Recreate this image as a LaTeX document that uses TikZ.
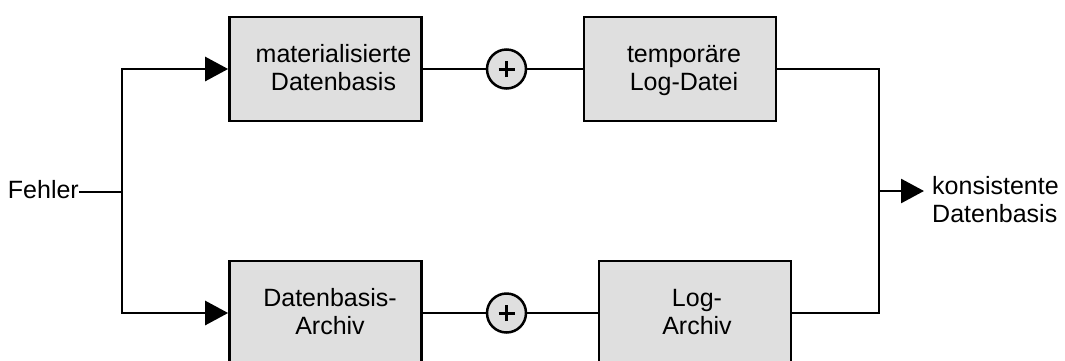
\documentclass[tikz,border=0pt]{standalone}
\usepackage{fontspec}
\setmainfont{Liberation Sans}
\usetikzlibrary{arrows.meta}
\definecolor{boxgray}{HTML}{DFDFDF}
\begin{document}
\begin{tikzpicture}[x=1pt,y=-1pt,
  every node/.style={font=\fontsize{25}{28}\selectfont},
  conn/.style={line width=2.7pt},
  arr/.style={conn,-{Triangle[length=23pt,width=24pt]}},
  blockbox/.style={draw,fill=boxgray,line width=2.7pt,minimum width=192pt,minimum height=104pt,inner sep=0pt},
  plusnode/.style={circle,draw,fill=boxgray,line width=2.5pt,minimum size=39pt,inner sep=0pt},
  plusbar/.style={line width=3pt},
  txt/.style={inner sep=0pt,align=center}]
\useasboundingbox (0,0) rectangle (1065,360);
\clip (0,0) rectangle (1065,360);

\node[blockbox] (b1) at (325.5,69) {};
\node[blockbox] (t1) at (680,69) {};
\node[blockbox] (b2) at (325.5,313) {};
\node[blockbox] (l2) at (695,313) {};
\node[txt] (b1t) at (333.5,67.9) {materialisierte\\Datenbasis};
\node[txt] (t1t) at (684,70.6) {temporäre\\Log-Datei};
\node[txt] (b2t) at (330,311.9) {Datenbasis-\\Archiv};
\node[txt] (l2t) at (697,311.9) {Log-\\Archiv};

\node[plusnode] (c1) at (506.5,69) {};
\node[plusnode] (c2) at (506.5,313) {};
\foreach \c in {c1,c2}{
  \draw[plusbar] ([xshift=-8pt]\c.center) -- ([xshift=8pt]\c.center);
  \draw[plusbar] ([yshift=-8pt]\c.center) -- ([yshift=8pt]\c.center);
}

\node[txt,anchor=east] (fehler) at (79,189.9) {Fehler};
\coordinate (J) at (122,192);
\coordinate (K) at (879,191);
\coordinate (out) at (924,191);
\node[txt,align=left,anchor=west] (kd) at (932,199.9) {konsistente\\Datenbasis};

\draw[conn] (fehler.east |- J) -- (J);
\draw[arr] (J) |- (b1.west);
\draw[arr] (J) |- (b2.west);
\draw[conn] (b1.east) -- (c1.west);
\draw[conn] (c1.east) -- (t1.west);
\draw[conn] (b2.east) -- (c2.west);
\draw[conn] (c2.east) -- (l2.west);
\draw[conn] (t1.east) -| (K);
\draw[conn] (l2.east) -| (K);
\draw[arr] (K) -- (out);
\end{tikzpicture}
\end{document}
